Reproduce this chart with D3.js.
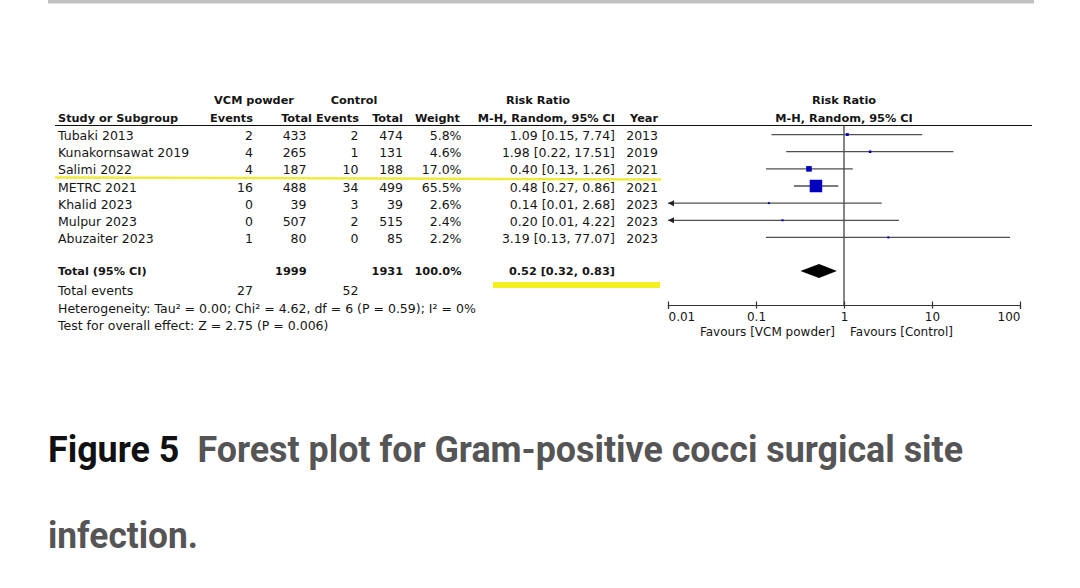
<!DOCTYPE html>
<html>
<head>
<meta charset="utf-8">
<script src="https://cdn.jsdelivr.net/npm/d3@7"></script>
<style>
    html, body { margin: 0; padding: 0; background: #fff; }
    svg { display: block; }
    text { font-family: "DejaVu Sans", sans-serif; fill: #151515; }
</style>
</head>
<body>
<div id="chart"></div>
<script>
// study level data
const studies = ['Tubaki 2013', 'Kunakornsawat 2019', 'Salimi 2022', 'METRC 2021', 'Khalid 2023', 'Mulpur 2023', 'Abuzaiter 2023'];
const vcmEvents = [2, 4, 4, 16, 0, 0, 1];
const vcmTotal = [433, 265, 187, 488, 39, 507, 80];
const ctrlEvents = [2, 1, 10, 34, 3, 2, 0];
const ctrlTotal = [474, 131, 188, 499, 39, 515, 85];
const weights = [5.8, 4.6, 17.0, 65.5, 2.6, 2.4, 2.2];
const rr = [1.09, 1.98, 0.40, 0.48, 0.14, 0.20, 3.19];
const ciLow = [0.15, 0.22, 0.13, 0.27, 0.01, 0.01, 0.13];
const ciHigh = [7.74, 17.51, 1.26, 0.86, 2.68, 4.22, 77.07];
const years = [2013, 2019, 2021, 2021, 2023, 2023, 2023];

// pooled result
const totals = [1999, 1931];
const totalWeight = '100.0%';
const totalEvents = [27, 52];
const pooled = [0.52, 0.32, 0.83]; // estimate, low, high
const heterogeneity = 'Heterogeneity: Tau\u00b2 = 0.00; Chi\u00b2 = 4.62, df = 6 (P = 0.59); I\u00b2 = 0%';
const overallTest = 'Test for overall effect: Z = 2.75 (P = 0.006)';

const axisTicks = [0.01, 0.1, 1, 10, 100];

const svg = d3.select('#chart')
    .append('svg')
    .attr('width', 1080)
    .attr('height', 588);

// grey rule at the very top of the page
svg.append('rect')
    .attr('x', 48).attr('y', 0)
    .attr('width', 986).attr('height', 3.5)
    .attr('fill', '#c0c0c0');

const x = d3.scaleLog().domain([0.01, 100]).range([668, 1020]);
const y = d3.scaleBand().domain(studies).range([126, 246]);
const rowY = i => y(studies[i]) + y.bandwidth() / 2;
const size = d3.scalePow().exponent(0.6).domain([0, d3.max(weights)]).range([0, 12.5]);

const fs = 12.5, fsBold = 11.3;

// --- headers
const hdr = svg.append('g').attr('font-weight', 'bold').attr('font-size', fsBold);
hdr.append('text').attr('x', 254).attr('y', 104).attr('text-anchor', 'middle').text('VCM powder');
hdr.append('text').attr('x', 354).attr('y', 104).attr('text-anchor', 'middle').text('Control');
hdr.append('text').attr('x', 538).attr('y', 104).attr('text-anchor', 'middle').text('Risk Ratio');
hdr.append('text').attr('x', x(1)).attr('y', 104).attr('text-anchor', 'middle').text('Risk Ratio');
hdr.append('text').attr('x', 58).attr('y', 121.5).text('Study or Subgroup');
[['Events', 253], ['Total', 312], ['Events', 359], ['Total', 403], ['Weight', 460], ['M-H, Random, 95% CI', 615], ['Year', 658]]
    .forEach(h => hdr.append('text').attr('x', h[1]).attr('y', 121.5).attr('text-anchor', 'end').text(h[0]));
hdr.append('text').attr('x', x(1)).attr('y', 121.5).attr('text-anchor', 'middle').text('M-H, Random, 95% CI');

svg.append('line')
    .attr('x1', 55).attr('x2', 1032)
    .attr('y1', 125.5).attr('y2', 125.5)
    .attr('stroke', '#111').attr('stroke-width', 1);

// yellow marker under Salimi row (annotation in the source)
svg.append('line')
    .attr('x1', 55).attr('y1', y(studies[2]) + y.bandwidth())
    .attr('x2', 661).attr('y2', y(studies[2]) + y.bandwidth() + 2)
    .attr('stroke', '#efeb3c').attr('stroke-width', 2.5);

// --- study rows
const fmt2 = d3.format('.2f');
const rows = svg.append('g').attr('font-size', fs);
studies.forEach((s, i) => {
    const ty = rowY(i) + 5.6;
    rows.append('text').attr('x', 58).attr('y', ty).text(s);
    const cells = [
        [vcmEvents[i], 253], [vcmTotal[i], 306.5], [ctrlEvents[i], 358.5], [ctrlTotal[i], 403],
        [weights[i].toFixed(1) + '%', 461.5],
        [fmt2(rr[i]) + ' [' + fmt2(ciLow[i]) + ', ' + fmt2(ciHigh[i]) + ']', 615],
        [years[i], 658]
    ];
    cells.forEach(c => rows.append('text').attr('x', c[1]).attr('y', ty).attr('text-anchor', 'end').text(c[0]));
});

// --- total row
const tot = svg.append('g').attr('font-size', fsBold).attr('font-weight', 'bold');
tot.append('text').attr('x', 58).attr('y', 275).text('Total (95% CI)');
tot.append('text').attr('x', 306.5).attr('y', 275).attr('text-anchor', 'end').text(totals[0]);
tot.append('text').attr('x', 403).attr('y', 275).attr('text-anchor', 'end').text(totals[1]);
tot.append('text').attr('x', 461.5).attr('y', 275).attr('text-anchor', 'end').text(totalWeight);
tot.append('text').attr('x', 615).attr('y', 275).attr('text-anchor', 'end')
    .text(fmt2(pooled[0]) + ' [' + fmt2(pooled[1]) + ', ' + fmt2(pooled[2]) + ']');

svg.append('rect')
    .attr('x', 493).attr('y', 282).attr('width', 167).attr('height', 6)
    .attr('fill', '#f4ef1e');

const foot = svg.append('g').attr('font-size', fs);
foot.append('text').attr('x', 58).attr('y', 295.2).text('Total events');
foot.append('text').attr('x', 253).attr('y', 295.2).attr('text-anchor', 'end').text(totalEvents[0]);
foot.append('text').attr('x', 358.5).attr('y', 295.2).attr('text-anchor', 'end').text(totalEvents[1]);
foot.append('text').attr('x', 58).attr('y', 312.5).text(heterogeneity);
foot.append('text').attr('x', 58).attr('y', 330).text(overallTest);

// --- forest plot
const axisY = 305;
const plot = svg.append('g');

plot.append('line')
    .attr('x1', x(1)).attr('x2', x(1))
    .attr('y1', 125.5).attr('y2', axisY)
    .attr('stroke', '#444').attr('stroke-width', 1.3);

const lo = x.domain()[0], hi = x.domain()[1];
studies.forEach((s, i) => {
    const cy = rowY(i);
    plot.append('line')
        .attr('x1', x(Math.max(ciLow[i], lo))).attr('x2', x(Math.min(ciHigh[i], hi)))
        .attr('y1', cy).attr('y2', cy)
        .attr('stroke', '#505050').attr('stroke-width', 1.3);
    if (ciLow[i] <= lo) {
        const ax = x(lo);
        plot.append('path')
            .attr('d', `M${ax},${cy}L${ax + 6},${cy - 3}L${ax + 6},${cy + 3}Z`)
            .attr('fill', '#222');
    }
    const sz = Math.max(size(weights[i]), 2);
    plot.append('rect')
        .attr('x', x(rr[i]) - sz / 2).attr('y', cy - sz / 2)
        .attr('width', sz).attr('height', sz)
        .attr('fill', '#0000bf');
});

// pooled diamond
const dy = 271;
plot.append('path')
    .attr('d', `M${x(pooled[1])},${dy}L${x(pooled[0])},${dy - 7}L${x(pooled[2])},${dy}L${x(pooled[0])},${dy + 7}Z`)
    .attr('fill', '#000');

const axis = plot.append('g')
    .attr('transform', 'translate(0,' + axisY + ')')
    .call(d3.axisBottom(x).tickValues(axisTicks).tickFormat(d => String(d)).tickSizeOuter(0).tickSize(4));
axis.attr('font-family', 'DejaVu Sans').attr('font-size', 12).attr('color', '#333');
axis.select('.domain').attr('stroke-width', 1.2);
axis.selectAll('.tick line').attr('y1', -3.5).attr('y2', 3.5).attr('stroke-width', 1.2);
axis.selectAll('.tick text')
    .attr('text-anchor', (d, i) => i === 0 ? 'start' : (i === axisTicks.length - 1 ? 'end' : 'middle'));

plot.append('text').attr('x', 835).attr('y', 335.5).attr('text-anchor', 'end').attr('font-size', 12).text('Favours [VCM powder]');
plot.append('text').attr('x', 850).attr('y', 335.5).attr('font-size', 12).text('Favours [Control]');

// --- caption
const cap = svg.append('g').attr('font-weight', 'bold').attr('font-size', 36);
const line1 = cap.append('text')
    .attr('x', 48).attr('y', 462)
    .attr('textLength', 915).attr('lengthAdjust', 'spacingAndGlyphs')
    .style('font-family', 'Roboto, sans-serif');
line1.append('tspan').style('fill', '#111').text('Figure 5');
line1.append('tspan').style('fill', '#555').text('\u2002Forest plot for Gram-positive cocci surgical site');
cap.append('text')
    .attr('x', 48).attr('y', 548)
    .attr('textLength', 150).attr('lengthAdjust', 'spacingAndGlyphs')
    .style('font-family', 'Roboto, sans-serif').style('fill', '#555')
    .text('infection.');
</script>
</body>
</html>
